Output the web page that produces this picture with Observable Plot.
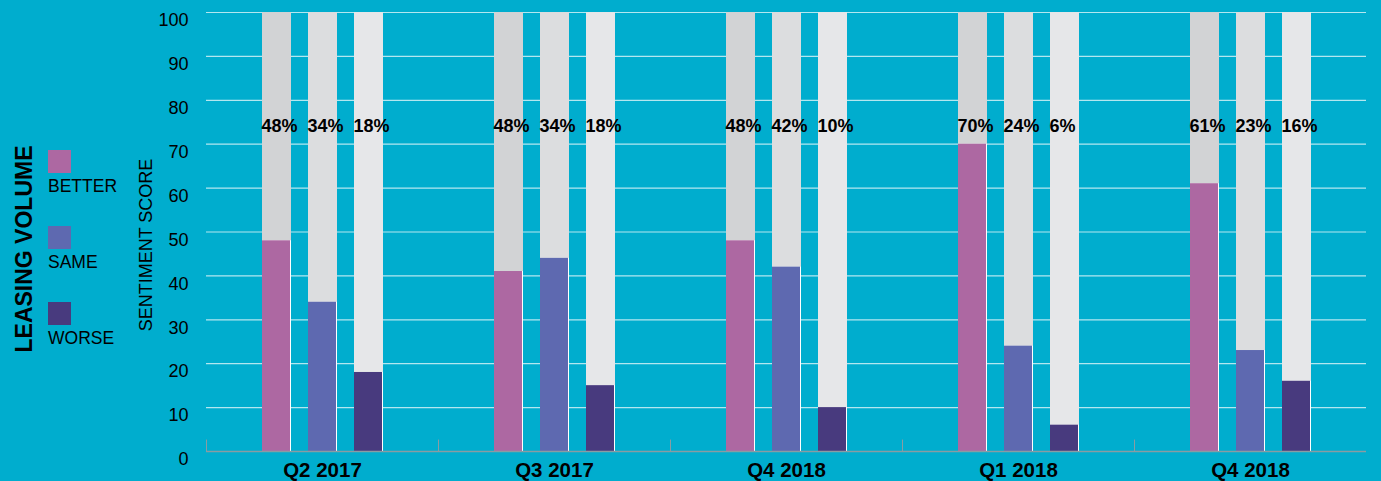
<!DOCTYPE html>
<html>
<head>
<meta charset="utf-8">
<script src="https://cdn.jsdelivr.net/npm/d3@7"></script>
<script src="https://cdn.jsdelivr.net/npm/@observablehq/plot@0.6"></script>
<style>
html, body { margin: 0; padding: 0; background: #00adce; }
#wrap { position: relative; width: 1381px; height: 481px; background: #00adce; overflow: hidden;
  font-family: "Liberation Sans", Arial, Helvetica, sans-serif; color: #000; }
#wrap svg { position: absolute; left: 0; top: 0; }
.legend-title { position: absolute; left: 23.5px; top: 249px; font-size: 23px; line-height: 23px; font-weight: bold;
  white-space: nowrap; transform: translate(-50%, -50%) rotate(-90deg); }
.swatch { position: absolute; left: 48px; width: 23px; height: 23px; }
.swatch-label { position: absolute; left: 48px; font-size: 17.5px; line-height: 17.5px; white-space: nowrap; }
.ylab { position: absolute; left: 145.8px; top: 245px; font-size: 18px; line-height: 18px; white-space: nowrap;
  transform: translate(-50%, -50%) rotate(-90deg); }
</style>
</head>
<body>
<div id="wrap"></div>
<script>
// ---- data ----
const quarters = ["Q2 2017", "Q3 2017", "Q4 2018", "Q1 2018", "Q4 2018"];
const categories = ["BETTER", "SAME", "WORSE"];
const betterValues = [48, 41, 48, 70, 61];
const sameValues = [34, 44, 42, 24, 23];
const worseValues = [18, 15, 10, 6, 16];
const betterLabels = ["48%", "48%", "48%", "70%", "61%"];
const sameLabels = ["34%", "34%", "42%", "24%", "23%"];
const worseLabels = ["18%", "18%", "10%", "6%", "16%"];
const yTicks = [0, 10, 20, 30, 40, 50, 60, 70, 80, 90, 100];
const legendTitle = "LEASING VOLUME";
const yTitle = "SENTIMENT SCORE";

// ---- styles ----
const colors = ["#ad68a2", "#5e69b0", "#483a7e"];
const bgColors = ["#d2d3d5", "#dcdddf", "#e6e7e9"];
const maxScore = 100;
const labelY = 74.2;
const axisGray = "#8a9ca2";

const seriesValues = [betterValues, sameValues, worseValues];
const seriesLabels = [betterLabels, sameLabels, worseLabels];
const rows = [];
quarters.forEach((q, i) => {
  categories.forEach((c, j) => {
    rows.push({q: i, cat: c, ci: j, value: seriesValues[j][i], label: seriesLabels[j][i]});
  });
});

const chart = Plot.plot({
  width: 1381,
  height: 481,
  marginTop: 12,
  marginBottom: 30,
  marginLeft: 206,
  marginRight: 15,
  style: {background: "transparent", color: "#000", fontFamily: "'Liberation Sans', Arial, Helvetica, sans-serif", overflow: "visible"},
  fx: {domain: d3.range(quarters.length), padding: 0},
  x: {domain: categories, paddingInner: 0.376, paddingOuter: 1.183, axis: null},
  y: {domain: [0, maxScore]},
  color: {type: "identity"},
  marks: [
    Plot.gridY(yTicks.filter(d => d > 0), {stroke: "#ffffff", strokeOpacity: 0.7, strokeWidth: 1.2}),
    Plot.barY(rows, {fx: "q", x: "cat", y: () => maxScore, fill: d => bgColors[d.ci]}),
    Plot.barY(rows, {fx: "q", x: "cat", y: "value", fill: "#ffffff"}),
    Plot.barY(rows, {fx: "q", x: "cat", y: "value", fill: d => colors[d.ci], insetRight: 1}),
    Plot.ruleY([0], {stroke: axisGray, strokeWidth: 1.5}),
    Plot.rect([0], {y1: 0, y2: 2.6, insetRight: 231, fill: axisGray}),
    Plot.text(rows, {fx: "q", x: "cat", y: () => labelY, text: "label", textAnchor: "start", dx: -15.5,
      fontSize: 18, fontWeight: "bold", fill: "#000"}),
    Plot.axisY(yTicks, {tickSize: 0, tickPadding: 18, dy: 8, fontSize: 18, label: null}),
    Plot.axisFx({anchor: "bottom", tickSize: 0, tickPadding: 11, fontSize: 20.5, fontWeight: "bold",
      tickFormat: i => quarters[i], label: null})
  ]
});

const wrap = document.getElementById("wrap");
wrap.appendChild(chart);

// legend
const t = document.createElement("div");
t.className = "legend-title";
t.textContent = legendTitle;
wrap.appendChild(t);
const swatchTops = [150, 226, 302];
categories.forEach((c, j) => {
  const s = document.createElement("div");
  s.className = "swatch";
  s.style.top = swatchTops[j] + "px";
  s.style.background = colors[j];
  wrap.appendChild(s);
  const l = document.createElement("div");
  l.className = "swatch-label";
  l.style.top = (swatchTops[j] + 28) + "px";
  l.textContent = c;
  wrap.appendChild(l);
});

// y-axis title
const yl = document.createElement("div");
yl.className = "ylab";
yl.textContent = yTitle;
wrap.appendChild(yl);
</script>
</body>
</html>
